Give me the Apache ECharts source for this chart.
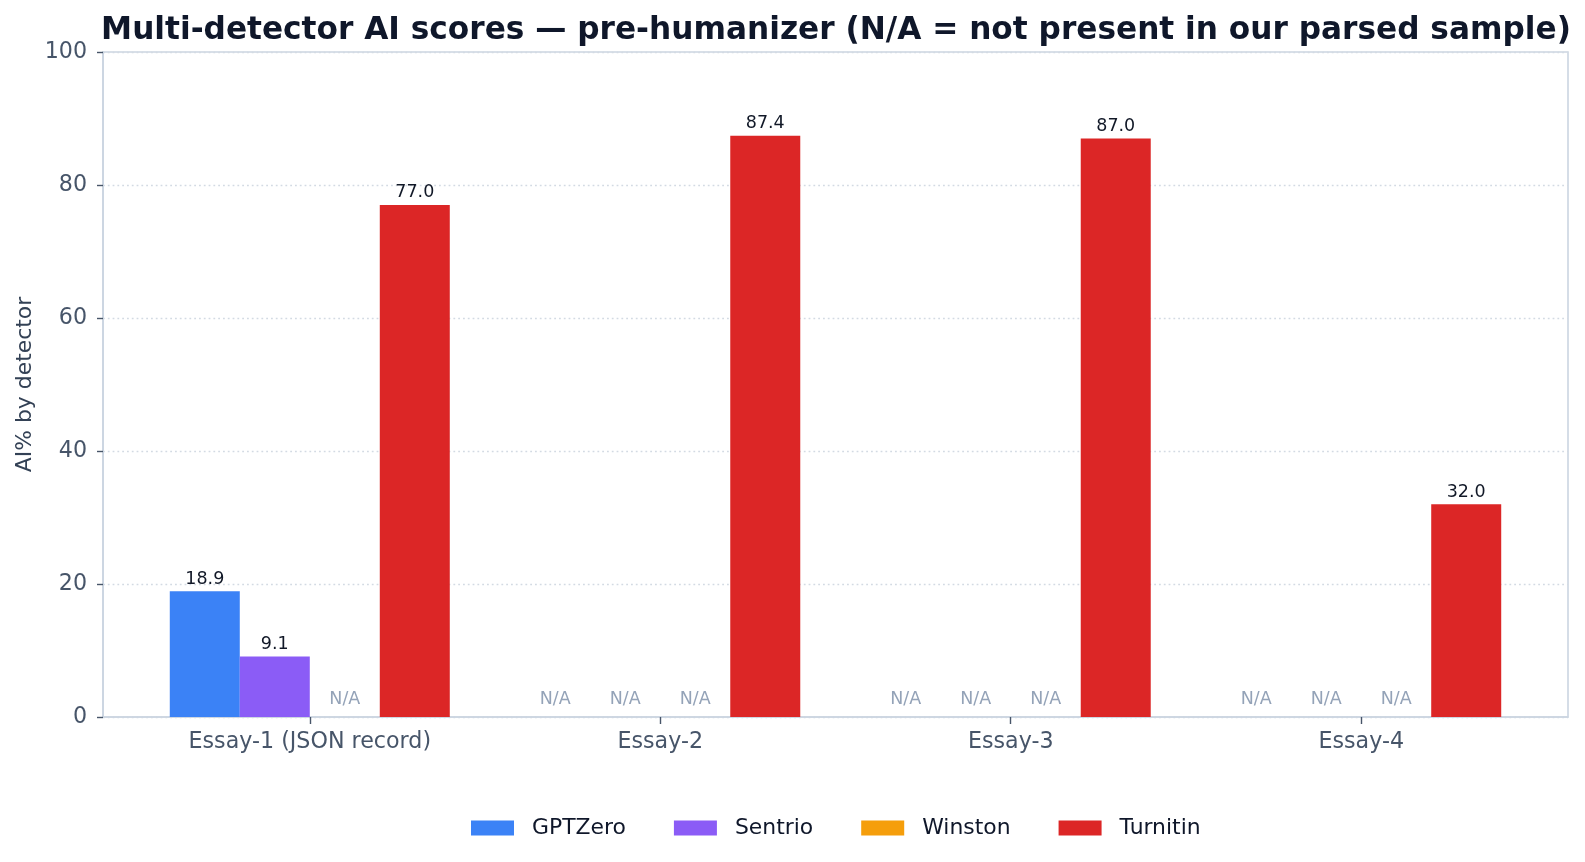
<!DOCTYPE html>
<html>
<head>
<meta charset="utf-8">
<title>Multi-detector AI scores</title>
<script src="https://cdn.jsdelivr.net/npm/echarts@6/dist/echarts.min.js"></script>
<style>
    html, body { margin: 0; padding: 0; background: #fff; }
    #scoreChart { width: 1585px; height: 862px; }
</style>
</head>
<body>
<div id="scoreChart"></div>
<script>
var essays = ['Essay-1 (JSON record)', 'Essay-2', 'Essay-3', 'Essay-4'];
var detectors = ['GPTZero', 'Sentrio', 'Winston', 'Turnitin'];
// null = N/A (not present in parsed sample)
var gptzero  = [18.9, null, null, null];
var sentrio  = [9.1, null, null, null];
var winston  = [null, null, null, null];
var turnitin = [77.0, 87.4, 87.0, 32.0];
var yTicks = [0, 20, 40, 60, 80, 100];

var colors = ['#3b82f6', '#8b5cf6', '#f59e0b', '#dc2626'];
var FONT = 'DejaVu Sans';

var scoreChartObj = {
    myChart : echarts.init(document.getElementById('scoreChart')),
    option : null,
    init : function(){
        var that = this;
        that.render();
    },
    // turn one detector's values into bar items, N/A -> zero bar with grey label
    buildData : function(values){
        var arr = [];
        for (var i = 0; i < values.length; i++) {
            if (values[i] === null) {
                arr.push({
                    value : [i, 0],
                    label : {
                        show : true,
                        position : 'top',
                        distance : 9,
                        formatter : 'N/A',
                        color : '#94a3b8',
                        fontSize : 17.5,
                        fontFamily : FONT
                    }
                });
            } else {
                arr.push({ value : [i, values[i]] });
            }
        }
        return arr;
    },
    render : function(){
        var that = this;
        var all = [gptzero, sentrio, winston, turnitin];
        var series = [];
        for (var k = 0; k < detectors.length; k++) {
            series.push({
                name : detectors[k],
                type : 'bar',
                barWidth : 70,
                barGap : '0%',
                data : that.buildData(all[k]),
                itemStyle : { color : colors[k] },
                label : {
                    show : true,
                    position : 'top',
                    distance : 3,
                    color : '#111827',
                    fontSize : 17.5,
                    fontFamily : FONT,
                    formatter : function(p){ return p.value[1].toFixed(1); }
                }
            });
        }
        that.drawChart(series);
    },
    drawChart : function(series){
        var that = this;
        that.option = {
            animation : false,
            color : colors,
            textStyle : { fontFamily : FONT },
            title : {
                text : 'Multi-detector AI scores \u2014 pre-humanizer (N/A = not present in our parsed sample)',
                left : 831,
                top : 10,
                textAlign : 'center',
                textStyle : {
                    fontFamily : FONT,
                    fontSize : 31.2,
                    fontWeight : 'bold',
                    color : '#0f172a'
                }
            },
            legend : {
                data : detectors,
                left : 466,
                top : 812,
                icon : 'rect',
                itemWidth : 43,
                itemHeight : 15,
                itemGap : 48,
                textStyle : {
                    fontFamily : FONT,
                    fontSize : 21.9,
                    color : '#0f172a',
                    padding : [0, 0, 0, 13]
                }
            },
            grid : {
                left : 103,
                right : 17,
                top : 52,
                bottom : 145,
                show : true,
                borderColor : '#cbd5e1',
                borderWidth : 1.6,
                outerBoundsMode : 'none'
            },
            xAxis : {
                type : 'value',
                min : -0.59,
                max : 3.59,
                splitLine : { show : false },
                axisLine : { show : true, onZero : false, lineStyle : { color : '#cbd5e1', width : 1.6 } },
                axisTick : {
                    show : true,
                    length : 7,
                    customValues : [0, 1, 2, 3],
                    lineStyle : { color : '#475569', width : 1.4 }
                },
                axisLabel : {
                    margin : 14,
                    customValues : [0, 1, 2, 3],
                    fontSize : 22.2,
                    color : '#475569',
                    fontFamily : FONT,
                    formatter : function(v){ return essays[Math.round(v)]; }
                }
            },
            yAxis : {
                type : 'value',
                min : 0,
                max : 100,
                interval : 20,
                name : 'AI% by detector',
                nameLocation : 'middle',
                nameGap : 67,
                nameMoveOverlap : false,
                nameTextStyle : {
                    fontFamily : FONT,
                    fontSize : 21.9,
                    color : '#334155'
                },
                axisLine : { show : true, onZero : false, lineStyle : { color : '#cbd5e1', width : 1.6 } },
                axisTick : { show : true, length : 6, lineStyle : { color : '#475569', width : 1.4 } },
                axisLabel : {
                    margin : 16,
                    fontSize : 22.2,
                    color : '#475569',
                    fontFamily : FONT,
                    formatter : function(v){ return yTicks.indexOf(v) >= 0 ? String(v) : ''; }
                },
                splitLine : {
                    show : true,
                    lineStyle : { type : [1.8, 3], color : '#d3dae3', width : 1.3 }
                }
            },
            series : series
        };
        that.myChart.setOption(that.option);
    }
};
scoreChartObj.init();
</script>
</body>
</html>
